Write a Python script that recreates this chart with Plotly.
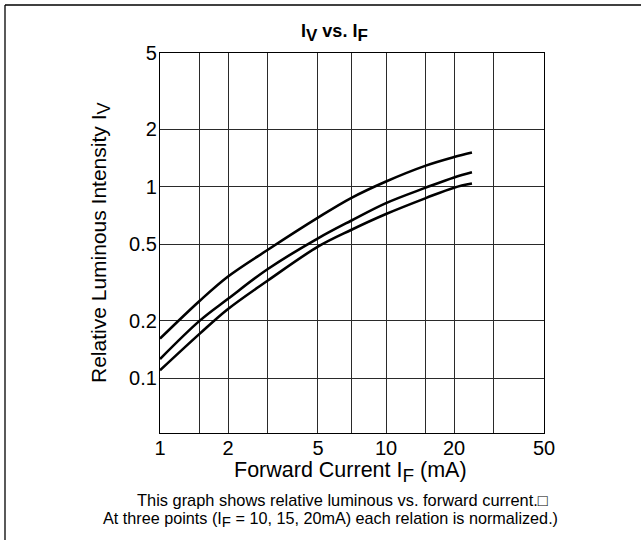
import plotly.graph_objects as go

# Data
forward_current = [1, 1.5, 2, 3, 5, 7, 10, 15, 20, 24]
iv_upper = [0.161, 0.254, 0.34, 0.469, 0.69, 0.873, 1.066, 1.29, 1.43, 1.51]
iv_middle = [0.126, 0.20, 0.26, 0.372, 0.538, 0.665, 0.822, 0.99, 1.12, 1.19]
iv_lower = [0.11, 0.171, 0.23, 0.324, 0.487, 0.595, 0.721, 0.873, 0.99, 1.04]

x_tick_vals = [1, 2, 5, 10, 20, 50]
x_tick_text = ["1", "2", "5", "10", "20", "50"]
x_minor_grid = [1.5, 3, 7, 15, 30]
y_tick_vals = [0.1, 0.2, 0.5, 1, 2, 5]
y_tick_text = ["0.1", "0.2", "0.5", "1", "2", "5"]

FONT = "Liberation Sans, Arial, Helvetica, sans-serif"

fig = go.Figure()
for ys in (iv_upper, iv_middle, iv_lower):
    fig.add_trace(go.Scatter(
        x=forward_current, y=ys, mode="lines",
        line=dict(color="black", width=2.6, shape="spline", smoothing=1),
        showlegend=False, hoverinfo="skip"))

W, H = 641, 540
L, R, T, B = 160, 544, 53, 433

def px(xp):
    return (xp - L) / (R - L)

def py(yp):
    return (B - yp) / (B - T)

GRID = "#2a2a2a"
fig.update_layout(
    width=W, height=H,
    margin=dict(l=L, r=W - R, t=T, b=H - B, pad=0),
    paper_bgcolor="white", plot_bgcolor="white",
    font=dict(family=FONT, color="black", size=20),
    xaxis=dict(
        type="log", range=[0, 1.69897],
        tickmode="array", tickvals=x_tick_vals, ticktext=x_tick_text,
        showgrid=True, gridcolor=GRID, gridwidth=1,
        minor=dict(tickmode="array", tickvals=x_minor_grid, showgrid=True,
                   gridcolor=GRID, gridwidth=1, ticks=""),
        showline=True, linecolor="black", linewidth=1.2, mirror=True,
        ticks="", zeroline=False, ticklabelstandoff=-3,
        tickfont=dict(family=FONT, size=20, color="black"),
    ),
    yaxis=dict(
        type="log", range=[-1.286, 0.69897],
        tickmode="array", tickvals=y_tick_vals, ticktext=y_tick_text,
        showgrid=True, gridcolor=GRID, gridwidth=1,
        showline=True, linecolor="black", linewidth=1.2, mirror=True,
        ticks="", zeroline=False, ticklabelstandoff=-2,
        tickfont=dict(family=FONT, size=20, color="black"),
    ),
)

def sub(t, size):
    return "<sub><span style='font-size:%dpx'>%s</span></sub>" % (size, t)

annotations = [
    dict(text="<b>I" + sub("V", 17) + " vs. I" + sub("F", 17) + "</b>",
         x=px(334), y=py(33), font=dict(size=18)),
    dict(text="Forward Current I" + sub("F", 19) + " (mA)", x=px(350), y=py(472),
         font=dict(size=21.5)),
    dict(text="Relative Luminous Intensity I" + sub("V", 18), x=px(100), y=py(243),
         textangle=-90, font=dict(size=21)),
    dict(text="This graph shows relative luminous vs. forward current.\u25a1",
         x=px(342), y=py(500), font=dict(size=16.4)),
    dict(text="At three points (I" + sub("F", 15) + " = 10, 15, 20mA) each relation is normalized.)",
         x=px(330), y=py(519), font=dict(size=16.2)),
]
for a in annotations:
    a.update(xref="paper", yref="paper", showarrow=False,
             xanchor="center", yanchor="middle")
    fig.add_annotation(**a)

# Outer frame (left and top edges visible in the reference)
fig.add_shape(type="line", xref="paper", yref="paper",
              x0=px(5), y0=py(5), x1=px(5), y1=py(560),
              line=dict(color="black", width=1.3))
fig.add_shape(type="line", xref="paper", yref="paper",
              x0=px(5), y0=py(5), x1=px(660), y1=py(5),
              line=dict(color="black", width=1.3))

fig.write_html("out.html",
               config={"displayModeBar": False},
               post_script="document.body.style.margin='0';")
